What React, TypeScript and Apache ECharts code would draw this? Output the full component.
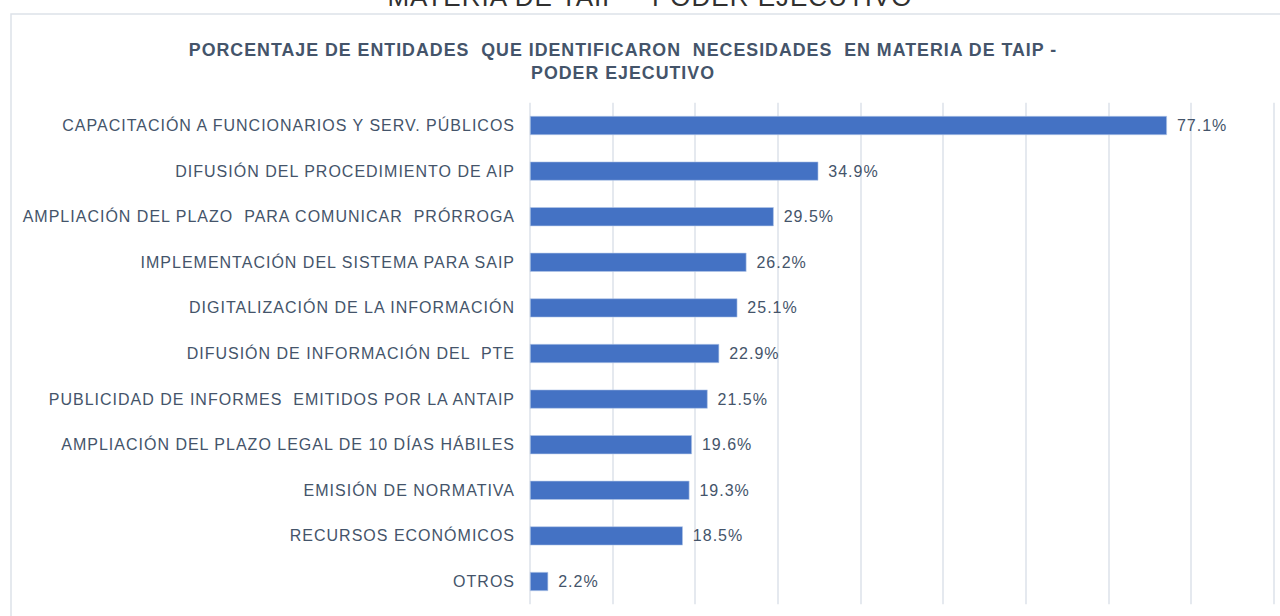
import React, { useEffect, useRef } from "react";
import * as echarts from "echarts";

const categories: string[] = [
  "CAPACITACIÓN A FUNCIONARIOS Y SERV. PÚBLICOS",
  "DIFUSIÓN DEL PROCEDIMIENTO DE AIP",
  "AMPLIACIÓN DEL PLAZO  PARA COMUNICAR  PRÓRROGA",
  "IMPLEMENTACIÓN DEL SISTEMA PARA SAIP",
  "DIGITALIZACIÓN DE LA INFORMACIÓN",
  "DIFUSIÓN DE INFORMACIÓN DEL  PTE",
  "PUBLICIDAD DE INFORMES  EMITIDOS POR LA ANTAIP",
  "AMPLIACIÓN DEL PLAZO LEGAL DE 10 DÍAS HÁBILES",
  "EMISIÓN DE NORMATIVA",
  "RECURSOS ECONÓMICOS",
  "OTROS",
];

const values: number[] = [77.1, 34.9, 29.5, 26.2, 25.1, 22.9, 21.5, 19.6, 19.3, 18.5, 2.2];

const titleLines: string[] = [
  "PORCENTAJE DE ENTIDADES  QUE IDENTIFICARON  NECESIDADES  EN MATERIA DE TAIP -",
  "PODER EJECUTIVO",
];

const topCutText = "MATERIA DE TAIP – PODER EJECUTIVO";

export default function App() {
  const ref = useRef<HTMLDivElement>(null);

  useEffect(() => {
    document.body.style.margin = "0";
    if (!ref.current) return;
    const chart = echarts.init(ref.current, undefined, { renderer: "svg" });
    const font = "'Liberation Sans', Arial, sans-serif";
    chart.setOption({
      animation: false,
      backgroundColor: "#ffffff",
      textStyle: { fontFamily: font },
      title: {
        text: titleLines.join("\n"),
        left: 618,
        top: 33,
        textAlign: "center",
        textStyle: {
          fontFamily: font,
          fontSize: 17.8,
          fontWeight: "bold",
          color: "#44546a",
          lineHeight: 23,
        },
      },
      graphic: [
        {
          type: "rect",
          shape: { x: 11, y: 14, width: 1400, height: 800 },
          style: { fill: "none", stroke: "#dde2e9", lineWidth: 1.5 },
          z: -1,
        },
        {
          type: "text",
          x: 650,
          y: -3,
          style: {
            text: topCutText,
            fontFamily: font,
            fontSize: 26,
            fill: "#303030",
            textAlign: "center",
            textVerticalAlign: "middle",
          },
        },
      ],
      grid: { left: 530, right: 6.5, top: 102.7, bottom: 11.7, containLabel: false },
      xAxis: {
        type: "value",
        min: 0,
        max: 90,
        interval: 10,
        axisLabel: { show: false },
        axisLine: { show: false },
        axisTick: { show: false },
        splitLine: { show: true, lineStyle: { color: "#dde2ea", width: 1.5 } },
      },
      yAxis: {
        type: "category",
        data: categories,
        inverse: true,
        axisLine: { show: false },
        axisTick: { show: false },
        axisLabel: {
          margin: 15,
          fontSize: 16,
          color: "#44546a",
          fontFamily: font,
        },
      },
      series: [
        {
          type: "bar",
          data: values,
          barWidth: 19,
          itemStyle: { color: "#4472c4", borderColor: "#b4c7e7", borderWidth: 0.6 },
          label: {
            show: true,
            position: "right",
            distance: 10,
            formatter: (p: any) => `${p.value.toFixed(1)}%`,
            fontSize: 16,
            color: "#44546a",
            fontFamily: font,
          },
        },
      ],
    });
    return () => chart.dispose();
  }, []);

  return (
    <>
      <style>{`#chartbox text { letter-spacing: 1px; }`}</style>
      <div
        id="chartbox"
        ref={ref}
        style={{ position: "fixed", left: 0, top: 0, width: 1280, height: 616 }}
      />
    </>
  );
}
